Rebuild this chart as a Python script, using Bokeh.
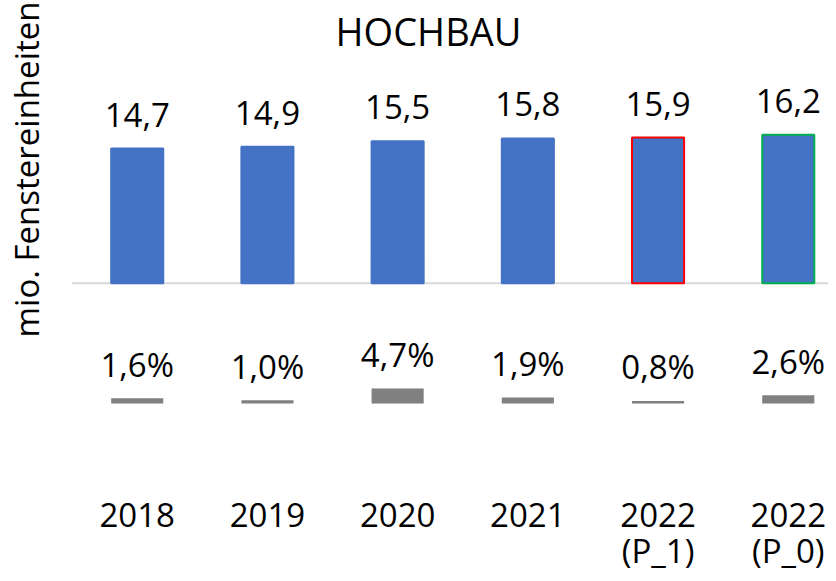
import math
from bokeh.plotting import figure
from bokeh.models import Range1d, Label, ColumnDataSource
from bokeh.core.properties import value
from bokeh.embed import file_html
from bokeh.resources import INLINE

# ---- data ----
categories = ["2018", "2019", "2020", "2021", "2022\n(P_1)", "2022\n(P_0)"]
volumes = [14.7, 14.9, 15.5, 15.8, 15.9, 16.2]          # mio. Fenstereinheiten
growth_pct = [1.6, 1.0, 4.7, 1.9, 0.8, 2.6]              # Veränderung in %
outline_colors = ["#4472C4", "#4472C4", "#4472C4", "#4472C4", "#FF0000", "#00B050"]

FONT = "Open Sans"
W, H = 828, 573

xs = list(range(len(categories)))
line1 = [c.split("\n")[0] for c in categories]
line2 = [c.split("\n")[1] if "\n" in c else "" for c in categories]
src = ColumnDataSource(dict(
    x=xs,
    vol=volumes,
    pct=growth_pct,
    vol_lbl=[f"{v:.1f}".replace(".", ",") for v in volumes],
    pct_lbl=[f"{v:.1f}".replace(".", ",") + "%" for v in growth_pct],
    cat1=line1,
    cat2=line2,
    outline=outline_colors,
))

p = figure(width=W, height=H, output_backend="svg", toolbar_location=None,
           x_range=Range1d(-1.050, 5.309), y_range=Range1d(-31.69, 30.86),
           min_border=0, outline_line_color=None)
p.extra_y_ranges = {"pct": Range1d(-54.0, 127.9)}
p.axis.visible = False
p.xgrid.visible = False
p.ygrid.visible = False
p.background_fill_color = "white"
p.border_fill_color = "white"

# baseline
p.segment(x0=[-0.5], x1=[len(categories) - 0.5], y0=[0], y1=[0],
          line_color="#D9D9D9", line_width=2)

# main bars
p.vbar(x="x", top="vol", bottom=0, width=0.4, source=src,
       fill_color="#4472C4", line_color="outline", line_width=2)

# growth bars
p.vbar(x="x", top="pct", bottom=0, width=0.4, source=src, y_range_name="pct",
       fill_color="#808080", line_color=None)

# value labels
p.text(x="x", y="vol", text="vol_lbl", source=src, text_align="center",
       text_baseline="alphabetic", y_offset=-34, text_font=value(FONT),
       text_font_size="33px", text_color="#000000")
p.text(x="x", y="pct", text="pct_lbl", source=src, y_range_name="pct",
       text_align="center", text_baseline="alphabetic", y_offset=-34,
       text_font=value(FONT), text_font_size="33px", text_color="#000000")

# category labels (two lines)
p.text(x="x", y=-24.0, text="cat1", source=src, text_align="center",
       text_baseline="top", text_font=value(FONT), text_font_size="33px",
       text_color="#000000")
p.text(x="x", y=-26.7, text="cat2", source=src, text_align="center",
       text_baseline="top", text_font=value(FONT), text_font_size="33px",
       text_color="#000000")

# title
p.add_layout(Label(x=428, y=H - 30.3, x_units="screen", y_units="screen",
                   text="HOCHBAU", text_align="center", text_baseline="alphabetic",
                   text_font=FONT, text_font_size="38px", text_color="#000000"))
# y-axis label
p.add_layout(Label(x=26.3, y=H - 169, x_units="screen", y_units="screen",
                   text="mio. Fenstereinheiten", angle=math.pi / 2,
                   text_align="center", text_baseline="alphabetic",
                   text_font=FONT, text_font_size="33px", text_color="#000000"))

open("out.html", "w").write(file_html(p, INLINE))
